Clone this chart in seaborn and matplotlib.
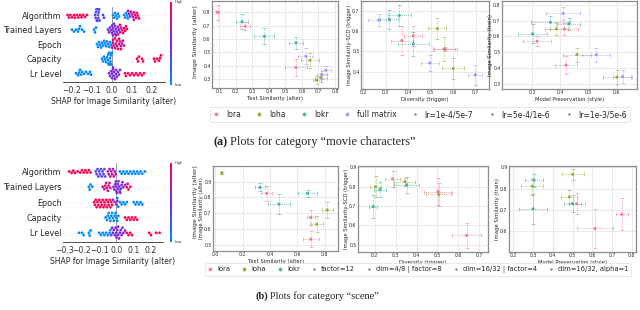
import numpy as np
import pandas as pd
import matplotlib
matplotlib.use("Agg")
import matplotlib.pyplot as plt
import seaborn as sns
from matplotlib.colors import LinearSegmentedColormap
from matplotlib.colorbar import ColorbarBase
from matplotlib.lines import Line2D

features = ["Algorithm", "Trained Layers", "Epoch", "Capacity", "Lr Level"]

# SHAP values, grouped by feature level (0 = low / blue, 1 = high / red)
top_algorithm = [
    (1.0, [-0.222, -0.215, -0.208, -0.2, -0.19, -0.185, -0.175, -0.168, -0.16, -0.152, -0.145, -0.135, -0.125,
           0.11, 0.115, 0.12, 0.125, 0.13, 0.135]),
    (0.35, [-0.085, -0.082, -0.08, -0.078, -0.076, -0.074, -0.072, -0.07, -0.068, -0.066, -0.064, -0.062, -0.045, -0.04]),
    (0.0, [0.005, 0.01, 0.015, 0.02, 0.025, 0.03, 0.035, 0.06, 0.065, 0.07, 0.075, 0.08]),
    (0.65, [0.08, 0.085, 0.09, 0.095, 0.1, 0.105, 0.11]),
]
top_layers = [
    (0.0, [-0.2, -0.19, -0.18, -0.17, -0.165, -0.16, -0.15, -0.14, -0.09, -0.085, -0.08]),
    (0.5, [-0.02, -0.015, -0.01, -0.005, 0.0, 0.0, 0.005, 0.005, 0.01, 0.01, 0.015, 0.015, 0.02, 0.02,
           0.025, 0.03, 0.035, 0.04]),
    (1.0, [0.03, 0.04, 0.045, 0.05, 0.055, 0.06, 0.065, 0.07, 0.075]),
]
top_epoch = [
    (0.0, [-0.075, -0.07, -0.065, -0.06, -0.055, -0.05, -0.045, -0.04, -0.035, -0.03, -0.025, -0.02,
           -0.015, -0.01, -0.005]),
    (0.8, [0.0, 0.005, 0.01, 0.015, 0.02, 0.025, 0.03, 0.035, 0.04, 0.045, 0.05, 0.055, 0.06]),
    (1.0, [0.005, 0.015, 0.025, 0.035, 0.045]),
]
top_capacity = [
    (0.0, [-0.05, -0.045, -0.04, -0.035, -0.03, -0.025, -0.02, -0.02, -0.018, -0.015, -0.015, -0.012,
           -0.01, -0.01, -0.008, -0.005, -0.003, 0.0]),
    (1.0, [0.125, 0.13, 0.135, 0.15, 0.155, 0.21, 0.215, 0.225, 0.235, 0.24, 0.245]),
]
top_lr = [
    (0.0, [-0.18, -0.17, -0.165, -0.16, -0.155, -0.15, -0.14, -0.13, -0.12, -0.11, -0.105]),
    (0.5, [-0.015, -0.01, -0.005, 0.0, 0.0, 0.005, 0.005, 0.01, 0.01, 0.015, 0.015, 0.02, 0.02,
           0.025, 0.03, 0.035, 0.04]),
    (1.0, [0.065, 0.07, 0.08, 0.09, 0.1, 0.11, 0.12, 0.13, 0.14, 0.15, 0.16]),
]

bot_algorithm = [
    (1.0, [-0.274, -0.26, -0.25, -0.24, -0.225, -0.21, -0.2, -0.19, -0.18, -0.17, -0.16, -0.15]),
    (0.35, [-0.12, -0.115, -0.11, -0.105, -0.1, -0.095, -0.09, -0.085, -0.08, -0.075, -0.07, -0.065]),
    (0.7, [-0.05, -0.045, -0.04, -0.035, -0.03, -0.025, -0.02, -0.015, -0.01, -0.005]),
    (0.0, [0.02, 0.03, 0.04, 0.05, 0.06, 0.07, 0.08, 0.09, 0.1, 0.11, 0.12, 0.13, 0.14, 0.15, 0.165]),
]
bot_layers = [
    (0.0, [-0.16, -0.155, -0.15, -0.14]),
    (0.85, [-0.08, -0.07, -0.065, -0.06, -0.055, -0.05, -0.045, -0.04, -0.035]),
    (0.5, [-0.017, -0.012, -0.008, -0.004, 0.0, 0.0, 0.004, 0.008, 0.01, 0.012, 0.016, 0.02, 0.022,
           0.026, 0.03, 0.035, 0.04, 0.05]),
    (1.0, [0.06, 0.065, 0.07, 0.08]),
]
bot_epoch = [
    (1.0, [-0.13, -0.125, -0.12, -0.115, -0.11, -0.105, -0.1, -0.095, -0.09, -0.085, -0.08, -0.075,
           -0.07, -0.065, -0.06, -0.055, -0.05, -0.045, -0.04, -0.035, -0.03, -0.025]),
    (0.5, [-0.02, -0.01, 0.0, 0.005]),
    (0.0, [0.005, 0.01, 0.02, 0.03, 0.04, 0.05, 0.06, 0.1, 0.11, 0.12, 0.13, 0.14, 0.15]),
]
bot_capacity = [
    (0.0, [-0.063, -0.055, -0.05, -0.045, -0.04, -0.035, -0.03, -0.025, -0.02, -0.015, -0.01, -0.005,
           0.0, 0.005, 0.011]),
    (1.0, [0.05, 0.06, 0.07, 0.08, 0.09, 0.1, 0.11, 0.12]),
]
bot_lr = [
    (0.0, [-0.217, -0.2, -0.19, -0.16, -0.155, -0.15, -0.1, -0.09, -0.08, -0.07, -0.06, -0.05,
           -0.04, -0.035]),
    (0.5, [-0.03, -0.025, -0.02, -0.015, -0.01, -0.005, 0.0, 0.0, 0.005, 0.01, 0.01, 0.015, 0.02,
           0.025, 0.03, 0.035, 0.04, 0.05]),
    (1.0, [0.06, 0.07, 0.08, 0.09, 0.19, 0.2, 0.23, 0.25]),
]

# scatter panels (movie characters)
top_algos = ["lora", "loha", "lokr", "full matrix"]
top_styles = ["lr=1e-4/5e-7", "lr=5e-4/1e-6", "lr=1e-3/5e-6"]

a1_algo = ["lora", "lokr", "lora", "lokr", "lokr", "lora", "full matrix", "loha", "loha", "loha", "full matrix", "full matrix"]
a1_x = [0.09, 0.237, 0.257, 0.373, 0.564, 0.564, 0.624, 0.648, 0.689, 0.715, 0.745, 0.72]
a1_xerr = [0.01, 0.035, 0.03, 0.06, 0.045, 0.065, 0.045, 0.055, 0.025, 0.035, 0.03, 0.03]
a1_y = [0.80, 0.73, 0.695, 0.62, 0.572, 0.386, 0.47, 0.44, 0.29, 0.31, 0.365, 0.33]
a1_yerr = [0.055, 0.055, 0.03, 0.06, 0.045, 0.065, 0.06, 0.055, 0.03, 0.035, 0.03, 0.03]

a2_algo = ["full matrix", "lokr", "lokr", "lora", "lora", "lokr", "loha", "loha", "lora", "full matrix", "loha", "full matrix"]
a2_x = [0.27, 0.317, 0.361, 0.423, 0.372, 0.423, 0.53, 0.56, 0.565, 0.496, 0.60, 0.698]
a2_xerr = [0.05, 0.04, 0.05, 0.04, 0.05, 0.07, 0.04, 0.05, 0.05, 0.04, 0.05, 0.03]
a2_y = [0.654, 0.657, 0.677, 0.577, 0.553, 0.537, 0.613, 0.512, 0.51, 0.443, 0.416, 0.385]
a2_yerr = [0.03, 0.045, 0.05, 0.05, 0.07, 0.06, 0.05, 0.06, 0.01, 0.04, 0.05, 0.05]

a3_algo = ["full matrix", "lokr", "lokr", "loha", "lora", "lokr", "lora", "loha", "full matrix", "lora", "loha", "full matrix"]
a3_x = [0.41, 0.365, 0.43, 0.386, 0.414, 0.302, 0.318, 0.459, 0.527, 0.42, 0.60, 0.62]
a3_xerr = [0.06, 0.07, 0.04, 0.04, 0.05, 0.05, 0.05, 0.05, 0.05, 0.04, 0.05, 0.035]
a3_y = [0.746, 0.69, 0.68, 0.648, 0.648, 0.617, 0.57, 0.485, 0.485, 0.419, 0.342, 0.346]
a3_yerr = [0.04, 0.04, 0.04, 0.04, 0.04, 0.06, 0.03, 0.045, 0.045, 0.06, 0.045, 0.04]

# scatter panels (scene)
bot_algos = ["lora", "loha", "lokr"]
bot_styles = ["factor=12", "dim=4/8 | factor=8", "dim=16/32 | factor=4", "dim=16/32, alpha=1"]

b1_algo = ["loha", "lokr", "lora", "lokr", "lokr", "loha", "lora", "loha", "lora"]
b1_x = [0.048, 0.327, 0.376, 0.465, 0.674, 0.818, 0.697, 0.74, 0.697]
b1_xerr = [0.005, 0.04, 0.04, 0.08, 0.07, 0.04, 0.03, 0.05, 0.06]
b1_y = [0.957, 0.864, 0.826, 0.758, 0.826, 0.72, 0.673, 0.63, 0.535]
b1_yerr = [0.005, 0.025, 0.05, 0.065, 0.02, 0.05, 0.05, 0.05, 0.05]

b2_algo = ["loha", "lokr", "lora", "loha", "lokr", "lokr", "lora", "loha", "lora"]
b2_x = [0.203, 0.224, 0.285, 0.344, 0.352, 0.192, 0.503, 0.507, 0.64]
b2_xerr = [0.025, 0.03, 0.035, 0.05, 0.06, 0.02, 0.065, 0.06, 0.07]
b2_y = [0.80, 0.785, 0.84, 0.826, 0.809, 0.697, 0.775, 0.76, 0.548]
b2_yerr = [0.055, 0.04, 0.04, 0.02, 0.04, 0.06, 0.07, 0.06, 0.065]

b3_algo = ["lokr", "loha", "loha", "loha", "lokr", "lora", "lokr", "lora", "lora"]
b3_x = [0.305, 0.501, 0.296, 0.484, 0.50, 0.521, 0.30, 0.614, 0.75]
b3_xerr = [0.045, 0.055, 0.055, 0.04, 0.045, 0.04, 0.07, 0.09, 0.03]
b3_y = [0.84, 0.867, 0.812, 0.762, 0.73, 0.73, 0.706, 0.614, 0.68]
b3_yerr = [0.03, 0.025, 0.04, 0.03, 0.04, 0.05, 0.07, 0.09, 0.075]

sns.set_theme(style="whitegrid")
plt.rcParams["font.family"] = ["DejaVu Sans"]

shap_cmap = LinearSegmentedColormap.from_list("shap", ["#008afb", "#7b2ae0", "#ff0052"])
pal = dict(zip(top_algos, sns.color_palette("husl", 4)))

fig = plt.figure(figsize=(6.4, 3.1), dpi=100)
W, H = 640, 310


def px_axes(x0, y0, x1, y1):
    return fig.add_axes([x0 / W, 1 - y1 / H, (x1 - x0) / W, (y1 - y0) / H])


def shap_panel(ax, groups, xlim, ticks):
    rows = []
    for feat, grp in zip(features, groups):
        for lvl, vals in grp:
            for v in vals:
                rows.append((feat, v, lvl))
    df = pd.DataFrame(rows, columns=["feature", "shap", "level"])
    lvl_pal = {l: shap_cmap(l) for l in df["level"].unique()}
    for i in range(len(features)):
        ax.axhline(i, color="#cccccc", lw=0.5, ls=(0, (1, 4)), zorder=0)
    ax.axvline(0, color="#999999", lw=0.7, zorder=0)
    sns.swarmplot(data=df, x="shap", y="feature", hue="level", palette=lvl_pal, order=features,
                  size=2.0, linewidth=0, legend=False, ax=ax, zorder=3)
    ax.grid(False)
    ax.set_xlim(xlim)
    ax.set_ylim(4.6, -0.55)
    ax.set_xticks(ticks)
    ax.set_xticklabels([f"{t:.1f}".replace("-", "\u2212") for t in ticks])
    for s in ["top", "right", "left"]:
        ax.spines[s].set_visible(False)
    ax.spines["bottom"].set_color("#333333")
    ax.spines["bottom"].set_linewidth(0.6)
    ax.tick_params(axis="y", length=0, labelsize=5.8, pad=1)
    ax.tick_params(axis="x", length=2, width=0.5, labelsize=5.6, pad=1, colors="#333333")
    ax.set_ylabel("")
    ax.set_xlabel("SHAP for Image Similarity (alter)", fontsize=5.5, labelpad=1)
    ax.set_facecolor("none")


def colorbar(y0, y1, label_y):
    cax = px_axes(170, y0, 172, y1)
    cb = ColorbarBase(cax, cmap=shap_cmap)
    cb.outline.set_visible(False)
    cb.set_ticks([])
    cax.text(2.5, 1.0, "High", transform=cax.transAxes, fontsize=2.5, va="center", ha="left")
    cax.text(2.5, 0.0, "Low", transform=cax.transAxes, fontsize=2.5, va="center", ha="left")
    fig.text(195 / W, 1 - label_y / H, "Image Similarity (alter)", rotation=90, fontsize=4.5,
             ha="center", va="center")


def scatter_panel(ax, algo, x, xerr, y, yerr, xlim, ylim, xticks, yticks, xlabel, ylabel):
    df = pd.DataFrame({"algo": algo, "x": x, "y": y, "xerr": xerr, "yerr": yerr})
    for _, r in df.iterrows():
        eb = ax.errorbar(r["x"], r["y"], xerr=r["xerr"], yerr=r["yerr"], fmt="none",
                         ecolor=pal[r["algo"]], elinewidth=0.7, capsize=1.2, capthick=0.6, alpha=0.6)
        eb[2][0].set_linestyle((0, (1, 1)))
        eb[2][1].set_linestyle((0, (1, 1)))
    sns.scatterplot(data=df, x="x", y="y", hue="algo", palette=pal, s=5, linewidth=0,
                    legend=False, ax=ax, zorder=3, alpha=0.9)
    ax.set_xlim(xlim)
    ax.set_ylim(ylim)
    ax.set_xticks(xticks)
    ax.set_yticks(yticks)
    ax.set_xticklabels([f"{t:.1f}" for t in xticks])
    ax.set_yticklabels([f"{t:.1f}" for t in yticks])
    ax.tick_params(labelsize=3.3, pad=1, length=0)
    ax.grid(True, color="#e6e6e6", lw=0.6)
    for s in ax.spines.values():
        s.set_color("#8c8c8c")
        s.set_linewidth(0.9)
    ax.set_xlabel(xlabel, fontsize=3.8, labelpad=1)
    ax.set_ylabel(ylabel, fontsize=3.8, labelpad=0.5)


# ---- top row: movie characters ----
ax = px_axes(63, 7, 165, 82)
shap_panel(ax, [top_algorithm, top_layers, top_epoch, top_capacity, top_lr], (-0.245, 0.265),
           [-0.2, -0.1, 0.0, 0.1, 0.2])
colorbar(2, 85, 42)

ax = px_axes(212, 1, 338, 88)
scatter_panel(ax, a1_algo, a1_x, a1_xerr, a1_y, a1_yerr, (0.056, 0.818), (0.232, 0.885),
              [0.1, 0.2, 0.3, 0.4, 0.5, 0.6, 0.7, 0.8], [0.3, 0.4, 0.5, 0.6, 0.7, 0.8],
              "Text Similarity (alter)", "")
ax = px_axes(361, 1, 489, 89)
scatter_panel(ax, a2_algo, a2_x, a2_xerr, a2_y, a2_yerr, (0.191, 0.759), (0.315, 0.748),
              [0.2, 0.3, 0.4, 0.5, 0.6, 0.7], [0.4, 0.5, 0.6, 0.7],
              "Diversity (trigger)", "Image Similarity-SCD (trigger)")
ax = px_axes(502, 1, 637, 89)
scatter_panel(ax, a3_algo, a3_x, a3_xerr, a3_y, a3_yerr, (0.194, 0.671), (0.267, 0.825),
              [0.3, 0.4, 0.5, 0.6], [0.3, 0.4, 0.5, 0.6, 0.7, 0.8],
              "Model Preservation (style)", "Image Similarity (train)")

# ---- bottom row: scene ----
ax = px_axes(63, 163, 163, 242)
shap_panel(ax, [bot_algorithm, bot_layers, bot_epoch, bot_capacity, bot_lr], (-0.31, 0.27),
           [-0.3, -0.2, -0.1, 0.0, 0.1, 0.2])
colorbar(163, 242, 202)

ax = px_axes(213, 166, 338, 251)
scatter_panel(ax, b1_algo, b1_x, b1_xerr, b1_y, b1_yerr, (-0.016, 0.896), (0.46, 1.0),
              [0.0, 0.2, 0.4, 0.6, 0.8], [0.5, 0.6, 0.7, 0.8, 0.9],
              "Text Similarity (alter)", "Image Similarity (alter)")
ax = px_axes(358, 166, 488, 252)
scatter_panel(ax, b2_algo, b2_x, b2_xerr, b2_y, b2_yerr, (0.119, 0.743), (0.462, 0.907),
              [0.2, 0.3, 0.4, 0.5, 0.6, 0.7], [0.5, 0.6, 0.7, 0.8, 0.9],
              "Diversity (trigger)", "Image Similarity-SCD (trigger)")
ax = px_axes(509, 166, 636, 252)
scatter_panel(ax, b3_algo, b3_x, b3_xerr, b3_y, b3_yerr, (0.178, 0.822), (0.504, 0.906),
              [0.2, 0.3, 0.4, 0.5, 0.6, 0.7, 0.8], [0.6, 0.7, 0.8, 0.9],
              "Model Preservation (style)", "Image Similarity (train)")


def legend(algos, styles, x, y, size, pad, spacing):
    handles = [Line2D([], [], marker="o", ls="", ms=1.8, color=pal[a], alpha=0.8) for a in algos]
    handles += [Line2D([], [], marker="o", ls="", ms=0.8, color="#888888") for _ in styles]
    leg = fig.legend(handles, algos + styles, loc="center", bbox_to_anchor=(x / W, 1 - y / H),
                     ncol=len(handles), fontsize=size, frameon=True, fancybox=True, handlelength=0.8,
                     handletextpad=pad, columnspacing=spacing, borderpad=0.4)
    leg.get_frame().set_edgecolor("#dddddd")
    leg.get_frame().set_linewidth(0.6)


legend(top_algos, top_styles, 420, 114.5, 5.5, 0.9, 2.0)
legend(bot_algos, bot_styles, 418, 269.5, 4.9, 0.7, 1.6)


def caption(x0, y, tag, rest, size):
    t = fig.text(x0 / W, 1 - y / H, tag, ha="left", va="center", fontsize=size,
                 family="Liberation Serif", weight="bold")
    bb = t.get_window_extent(renderer=fig.canvas.get_renderer())
    fig.text((bb.x1 + 2.5) / W, 1 - y / H, rest, ha="left", va="center", fontsize=size,
             family="Liberation Serif")


caption(213, 142, "(a)", "Plots for category \u201cmovie characters\u201d", 8.8)
caption(255, 296, "(b)", "Plots for category \u201cscene\u201d", 7.5)

fig.savefig("out.png", dpi=100)
